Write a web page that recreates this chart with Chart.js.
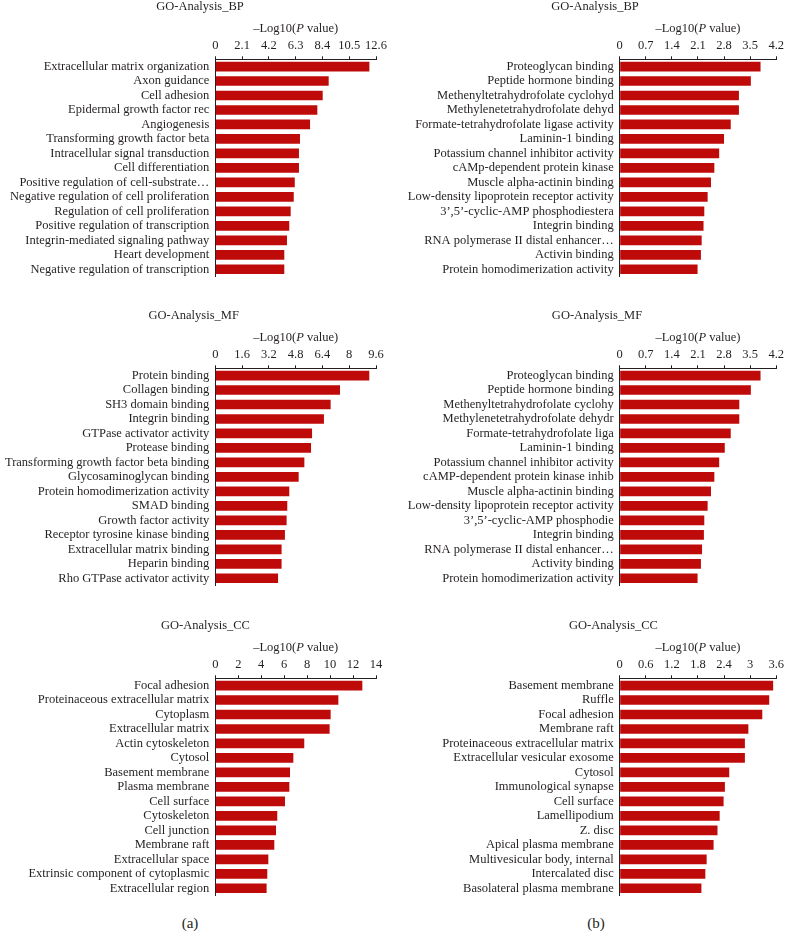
<!DOCTYPE html>
<html>
<head>
<meta charset="utf-8">
<script src="https://cdn.jsdelivr.net/npm/chart.js@4.4.0/dist/chart.umd.min.js"></script>
<style>
  html, body { margin: 0; padding: 0; background: #fff; }
  #page { position: relative; width: 787px; height: 932px; overflow: hidden; }
  .panel { position: absolute; }
  .panel canvas { display: block; }
  .tag { position: absolute; font: 15px 'Liberation Serif', 'DejaVu Serif', serif; color: #231f20; transform: translate(-50%, -50%); }
</style>
</head>
<body>
<div id="page">
  <div class="panel" id="p0"><canvas id="c0"></canvas></div>
  <div class="panel" id="p1"><canvas id="c1"></canvas></div>
  <div class="panel" id="p2"><canvas id="c2"></canvas></div>
  <div class="panel" id="p3"><canvas id="c3"></canvas></div>
  <div class="panel" id="p4"><canvas id="c4"></canvas></div>
  <div class="panel" id="p5"><canvas id="c5"></canvas></div>
  <div class="tag" style="left:190px; top:923px;">(a)</div>
  <div class="tag" style="left:596px; top:923px;">(b)</div>
</div>
<script>
// --- Data: (a) column ---
const bpATerms = [
  'Extracellular matrix organization', 'Axon guidance', 'Cell adhesion', 'Epidermal growth factor rec',
  'Angiogenesis', 'Transforming growth factor beta', 'Intracellular signal transduction', 'Cell differentiation',
  'Positive regulation of cell-substrate…', 'Negative regulation of cell proliferation', 'Regulation of cell proliferation',
  'Positive regulation of transcription', 'Integrin-mediated signaling pathway', 'Heart development',
  'Negative regulation of transcription'
];
const bpAValues = [12.08, 8.89, 8.42, 8.0, 7.43, 6.64, 6.56, 6.56, 6.23, 6.15, 5.91, 5.80, 5.62, 5.41, 5.41];
const bpATicks = [0, 2.1, 4.2, 6.3, 8.4, 10.5, 12.6];

const mfATerms = [
  'Protein binding', 'Collagen binding', 'SH3 domain binding', 'Integrin binding', 'GTPase activator activity',
  'Protease binding', 'Transforming growth factor beta binding', 'Glycosaminoglycan binding',
  'Protein homodimerization activity', 'SMAD binding', 'Growth factor activity', 'Receptor tyrosine kinase binding',
  'Extracellular matrix binding', 'Heparin binding', 'Rho GTPase activator activity'
];
const mfAValues = [9.20, 7.45, 6.89, 6.49, 5.78, 5.72, 5.32, 4.98, 4.42, 4.30, 4.26, 4.16, 3.96, 3.96, 3.75];
const mfATicks = [0, 1.6, 3.2, 4.8, 6.4, 8, 9.6];

const ccATerms = [
  'Focal adhesion', 'Proteinaceous extracellular matrix', 'Cytoplasm', 'Extracellular matrix', 'Actin cytoskeleton',
  'Cytosol', 'Basement membrane', 'Plasma membrane', 'Cell surface', 'Cytoskeleton', 'Cell junction',
  'Membrane raft', 'Extracellular space', 'Extrinsic component of cytoplasmic', 'Extracellular region'
];
const ccAValues = [12.81, 10.72, 10.05, 9.96, 7.75, 6.80, 6.51, 6.45, 6.07, 5.40, 5.29, 5.14, 4.62, 4.53, 4.47];
const ccATicks = [0, 2, 4, 6, 8, 10, 12, 14];

// --- Data: (b) column ---
const bpBTerms = [
  'Proteoglycan binding', 'Peptide hormone binding', 'Methenyltetrahydrofolate cyclohyd', 'Methylenetetrahydrofolate dehyd',
  'Formate-tetrahydrofolate ligase activity', 'Laminin-1 binding', 'Potassium channel inhibitor activity',
  'cAMp-dependent protein kinase', 'Muscle alpha-actinin binding', 'Low-density lipoprotein receptor activity',
  '3’,5’-cyclic-AMP phosphodiestera', 'Integrin binding', 'RNA polymerase II distal enhancer…', 'Activin binding',
  'Protein homodimerization activity'
];
const bpBValues = [3.78, 3.52, 3.20, 3.20, 2.98, 2.80, 2.67, 2.54, 2.45, 2.36, 2.27, 2.25, 2.20, 2.18, 2.09];
const bpBTicks = [0, 0.7, 1.4, 2.1, 2.8, 3.5, 4.2];

const mfBTerms = [
  'Proteoglycan binding', 'Peptide hormone binding', 'Methenyltetrahydrofolate cyclohy', 'Methylenetetrahydrofolate dehydr',
  'Formate-tetrahydrofolate liga', 'Laminin-1 binding', 'Potassium channel inhibitor activity',
  'cAMP-dependent protein kinase inhib', 'Muscle alpha-actinin binding', 'Low-density lipoprotein receptor activity',
  '3’,5’-cyclic-AMP phosphodie', 'Integrin binding', 'RNA polymerase II distal enhancer…', 'Activity binding',
  'Protein homodimerization activity'
];
const mfBValues = [3.78, 3.52, 3.21, 3.21, 2.98, 2.82, 2.67, 2.54, 2.45, 2.36, 2.27, 2.26, 2.21, 2.18, 2.09];
const mfBTicks = [0, 0.7, 1.4, 2.1, 2.8, 3.5, 4.2];

const ccBTerms = [
  'Basement membrane', 'Ruffle', 'Focal adhesion', 'Membrane raft', 'Proteinaceous extracellular matrix',
  'Extracellular vesicular exosome', 'Cytosol', 'Immunological synapse', 'Cell surface', 'Lamellipodium',
  'Z. disc', 'Apical plasma membrane', 'Multivesicular body, internal', 'Intercalated disc',
  'Basolateral plasma membrane'
];
const ccBValues = [3.53, 3.44, 3.28, 2.96, 2.88, 2.88, 2.52, 2.42, 2.39, 2.30, 2.25, 2.16, 2.00, 1.97, 1.88];
const ccBTicks = [0, 0.6, 1.2, 1.8, 2.4, 3, 3.6];

const FONT = "'Liberation Serif', 'DejaVu Serif', serif";
const INK = '#231f20';
const BAR = '#bf0a0a';
const SIZE = 12.5;

// panel title and "–Log10(P value)" (italic P) drawn above the top axis
const headingPlugin = {
  id: 'heading',
  afterDraw(chart, args, opts) {
    const { ctx, chartArea } = chart;
    ctx.save();
    ctx.fillStyle = INK;
    ctx.textBaseline = 'middle';

    ctx.textAlign = 'center';
    ctx.font = `${SIZE}px ${FONT}`;
    ctx.fillText(opts.text, opts.centerX, 6.3);

    ctx.textAlign = 'left';
    const parts = [['–Log10(', ''], ['P', 'italic '], [' value)', '']];
    let total = 0;
    parts.forEach(([t, st]) => { ctx.font = `${st}${SIZE}px ${FONT}`; total += ctx.measureText(t).width; });
    let x = (chartArea.left + chartArea.right) / 2 - total / 2;
    const y = chartArea.top - 30.5;
    parts.forEach(([t, st]) => {
      ctx.font = `${st}${SIZE}px ${FONT}`;
      ctx.fillText(t, x, y);
      x += ctx.measureText(t).width;
    });
    ctx.restore();
  }
};

function createGoChart(canvasId, title, terms, values, ticks, box) {
  const canvas = document.getElementById(canvasId);
  const panel = canvas.parentElement;
  panel.style.left = box.left + 'px';
  panel.style.top = box.top + 'px';
  canvas.width = box.width;
  canvas.height = box.height;
  const ctx = canvas.getContext('2d');

  new Chart(ctx, {
    type: 'bar',
    data: {
      labels: terms,
      datasets: [{
        data: values,
        backgroundColor: BAR,
        borderWidth: 0,
        barPercentage: 0.67,
        categoryPercentage: 1
      }]
    },
    options: {
      indexAxis: 'y',
      responsive: false,
      animation: false,
      layout: { padding: { top: 12.6, left: 0, right: box.padR, bottom: 7 } },
      plugins: {
        legend: { display: false },
        tooltip: { enabled: false },
        title: { display: false },
        heading: { text: title, centerX: box.titleX }
      },
      scales: {
        x: {
          position: 'top',
          min: ticks[0],
          max: ticks[ticks.length - 1],
          afterBuildTicks: s => { s.ticks = ticks.map(v => ({ value: v })); },
          afterFit: s => { s.height = 46.7; },
          grid: { drawOnChartArea: false, color: INK, tickColor: INK, tickLength: 3 },
          border: { display: true, color: INK, width: 1 },
          ticks: {
            color: INK,
            font: { family: FONT, size: SIZE },
            padding: 3,
            maxRotation: 0,
            autoSkip: false,
            callback: v => String(v)
          }
        },
        y: {
          afterFit: s => { s.width = box.yWidth; },
          grid: { display: false, drawTicks: false },
          border: { display: true, color: INK, width: 1 },
          ticks: { color: INK, font: { family: FONT, size: SIZE }, padding: 6, autoSkip: false }
        }
      }
    },
    plugins: [headingPlugin]
  });
}

// chart area: left column x 215.3..376, right column x 619.7..779.7
function leftBox(top, titleX) {
  return { left: 0, top, width: 393, height: 290, padR: 17, yWidth: 215.3, titleX };
}
function rightBox(top, titleX) {
  return { left: 393, top, width: 394, height: 290, padR: 7.3, yWidth: 226.7, titleX };
}

function renderAll() {
  createGoChart('c0', 'GO-Analysis_BP', bpATerms, bpAValues, bpATicks, leftBox(0, 200));
  createGoChart('c2', 'GO-Analysis_MF', mfATerms, mfAValues, mfATicks, leftBox(308.7, 193.7));
  createGoChart('c4', 'GO-Analysis_CC', ccATerms, ccAValues, ccATicks, leftBox(618.7, 205.5));
  createGoChart('c1', 'GO-Analysis_BP', bpBTerms, bpBValues, bpBTicks, rightBox(0, 202));
  createGoChart('c3', 'GO-Analysis_MF', mfBTerms, mfBValues, mfBTicks, rightBox(308.7, 204));
  createGoChart('c5', 'GO-Analysis_CC', ccBTerms, ccBValues, ccBTicks, rightBox(618.7, 220.5));
}

window.onload = renderAll;
</script>
</body>
</html>
